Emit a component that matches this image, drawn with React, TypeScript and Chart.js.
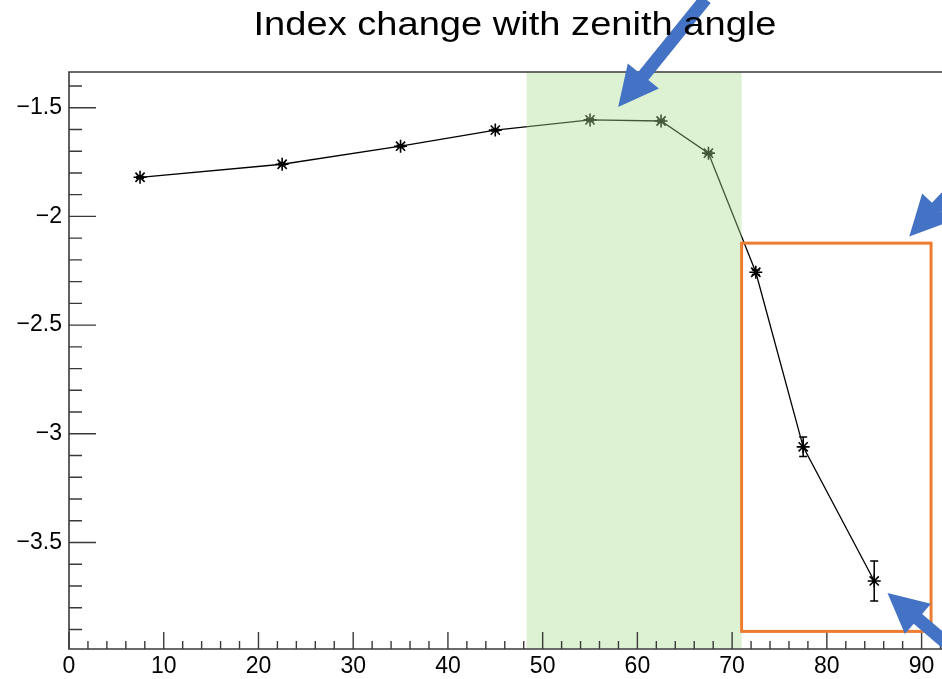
import React, { useEffect, useRef } from "react";
import { Chart, registerables } from "chart.js";

Chart.register(...registerables);

// Spectral index measured per zenith-angle bin
const zenithAngles = [7.5, 22.5, 35, 45, 55, 62.5, 67.5, 72.5, 77.5, 85];
const indexValues = [-1.82, -1.76, -1.677, -1.603, -1.556, -1.561, -1.709, -2.257, -3.06, -3.677];
const indexErrors = [0.004, 0.004, 0.004, 0.004, 0.005, 0.005, 0.006, 0.01, 0.045, 0.092];

// Axis ticks
const xTickValues = [0, 10, 20, 30, 40, 50, 60, 70, 80, 90];
const yTickValues = [-3.5, -3, -2.5, -2, -1.5];
const xRange = [0, 95.1];
const yRange = [-3.99, -1.3357];

const titleText = "Index change with zenith angle";

// Highlighted regions (data units)
const greenBand = { xMin: 48.3, xMax: 71.0 };
const orangeBox = { xMin: 71.0, xMax: 91.0, yMin: -3.909, yMax: -2.123 };

// Pointer arrows: tail -> tip (data units)
const arrowTails = [
  [67.2, -1.0],
  [97.3, -1.695],
  [97.3, -4.137],
];
const arrowTips = [
  [57.97, -1.497],
  [88.7, -2.092],
  [86.4, -3.732],
];

const AXIS_COLOR = "#3a3a3a";
const FONT = "'Liberation Sans', Arial, Helvetica, sans-serif";

const overlayPlugin = {
  id: "rootStyleOverlay",
  beforeDatasetsDraw(chart: any) {
    const { ctx } = chart;
    const xs = chart.scales.x;
    const ys = chart.scales.y;
    ctx.save();
    ctx.strokeStyle = "#000";
    ctx.lineWidth = 1.5;
    zenithAngles.forEach((a, i) => {
      const px = xs.getPixelForValue(a);
      const top = ys.getPixelForValue(indexValues[i] + indexErrors[i]);
      const bot = ys.getPixelForValue(indexValues[i] - indexErrors[i]);
      ctx.beginPath();
      ctx.moveTo(px, top);
      ctx.lineTo(px, bot);
      ctx.moveTo(px - 4, top);
      ctx.lineTo(px + 4, top);
      ctx.moveTo(px - 4, bot);
      ctx.lineTo(px + 4, bot);
      ctx.stroke();
    });
    ctx.restore();
  },
  afterDatasetsDraw(chart: any) {
    const { ctx, chartArea } = chart;
    const xs = chart.scales.x;
    const ys = chart.scales.y;
    ctx.save();

    // translucent green band over the data
    const gx0 = xs.getPixelForValue(greenBand.xMin);
    const gx1 = xs.getPixelForValue(greenBand.xMax);
    ctx.fillStyle = "rgba(169, 219, 146, 0.4)";
    ctx.fillRect(gx0, chartArea.top, gx1 - gx0, chartArea.bottom - chartArea.top - 1);

    // frame
    ctx.strokeStyle = AXIS_COLOR;
    ctx.lineWidth = 1.6;
    ctx.beginPath();
    ctx.moveTo(chartArea.right + 5, chartArea.top);
    ctx.lineTo(chartArea.left, chartArea.top);
    ctx.lineTo(chartArea.left, chartArea.bottom);
    ctx.lineTo(chartArea.right + 5, chartArea.bottom);
    ctx.stroke();

    // inward ticks
    ctx.lineWidth = 1.4;
    ctx.beginPath();
    for (let k = 0; k <= 48; k++) {
      const v = k * 2;
      if (v > xRange[1]) break;
      const px = xs.getPixelForValue(v);
      const len = v % 10 === 0 ? 17 : 8;
      ctx.moveTo(px, chartArea.bottom);
      ctx.lineTo(px, chartArea.bottom - len);
    }
    for (let k = -39; k <= -14; k++) {
      const v = k / 10;
      const py = ys.getPixelForValue(v);
      const len = k % 5 === 0 ? 27 : 13;
      ctx.moveTo(chartArea.left, py);
      ctx.lineTo(chartArea.left + len, py);
    }
    ctx.stroke();

    // orange box
    ctx.strokeStyle = "#ED7D31";
    ctx.lineWidth = 3;
    const ox0 = xs.getPixelForValue(orangeBox.xMin);
    const ox1 = xs.getPixelForValue(orangeBox.xMax);
    const oy0 = ys.getPixelForValue(orangeBox.yMax);
    const oy1 = ys.getPixelForValue(orangeBox.yMin);
    ctx.strokeRect(ox0, oy0, ox1 - ox0, oy1 - oy0);

    // blue arrows
    ctx.fillStyle = "#4472C4";
    arrowTips.forEach((tip, i) => {
      const tail = arrowTails[i];
      const tx = xs.getPixelForValue(tip[0]);
      const ty = ys.getPixelForValue(tip[1]);
      const sx = xs.getPixelForValue(tail[0]);
      const sy = ys.getPixelForValue(tail[1]);
      const dx = sx - tx;
      const dy = sy - ty;
      const len = Math.hypot(dx, dy);
      const ux = dx / len;
      const uy = dy / len;
      const nx = -uy;
      const ny = ux;
      const head = 40;
      const hw = 20;
      const sw = 6.5;
      const bx = tx + ux * head;
      const by = ty + uy * head;
      ctx.beginPath();
      ctx.moveTo(tx, ty);
      ctx.lineTo(bx + nx * hw, by + ny * hw);
      ctx.lineTo(bx + nx * sw, by + ny * sw);
      ctx.lineTo(sx + nx * sw, sy + ny * sw);
      ctx.lineTo(sx - nx * sw, sy - ny * sw);
      ctx.lineTo(bx - nx * sw, by - ny * sw);
      ctx.lineTo(bx - nx * hw, by - ny * hw);
      ctx.closePath();
      ctx.fill();
    });
    ctx.restore();
  },
  beforeDraw(chart: any) {
    const { ctx } = chart;
    ctx.save();
    ctx.fillStyle = "#fff";
    ctx.fillRect(0, 0, chart.width, chart.height);
    ctx.restore();
  },
  afterDraw(chart: any) {
    const { ctx } = chart;
    ctx.save();
    ctx.fillStyle = "#000";
    ctx.font = `34px ${FONT}`;
    ctx.textAlign = "center";
    ctx.textBaseline = "alphabetic";
    ctx.translate(515, 35);
    ctx.scale(1.12, 1);
    ctx.fillText(titleText, 0, 0);
    ctx.restore();
  },
};

export default function App() {
  const canvasRef = useRef<HTMLCanvasElement | null>(null);

  useEffect(() => {
    const canvas = canvasRef.current;
    if (!canvas) return;
    const chart = new Chart(canvas, {
      type: "line",
      data: {
        datasets: [
          {
            data: zenithAngles.map((a, i) => ({ x: a, y: indexValues[i] })),
            borderColor: "#000",
            borderWidth: 1.3,
            pointStyle: "star",
            pointRadius: 6.5,
            pointBorderWidth: 1.6,
            pointBorderColor: "#000",
            pointBackgroundColor: "#000",
            tension: 0,
            fill: false,
          },
        ],
      },
      options: {
        responsive: false,
        animation: false,
        devicePixelRatio: 1,
        layout: { padding: { top: 72, left: 0, right: 0, bottom: 0 } },
        plugins: {
          legend: { display: false },
          title: { display: false },
          tooltip: { enabled: false },
        },
        scales: {
          x: {
            type: "linear",
            min: xRange[0],
            max: xRange[1],
            grid: { display: false, drawTicks: false },
            border: { display: false },
            afterBuildTicks: (s: any) => {
              s.ticks = xTickValues.map((v) => ({ value: v }));
            },
            afterFit: (s: any) => {
              s.height = 30;
            },
            ticks: {
              autoSkip: false,
              maxRotation: 0,
              padding: 4,
              color: "#000",
              font: { family: FONT, size: 23 },
              callback: (v: any) => String(v),
            },
          },
          y: {
            type: "linear",
            min: yRange[0],
            max: yRange[1],
            grid: { display: false, drawTicks: false },
            border: { display: false },
            afterBuildTicks: (s: any) => {
              s.ticks = yTickValues.map((v) => ({ value: v }));
            },
            afterFit: (s: any) => {
              s.width = 69;
            },
            ticks: {
              autoSkip: false,
              padding: 7,
              color: "#000",
              font: { family: FONT, size: 23 },
              callback: (v: any) => String(v).replace("-", "\u2212"),
            },
          },
        },
      },
      plugins: [overlayPlugin],
    });
    return () => chart.destroy();
  }, []);

  return (
    <div
      style={{
        position: "absolute",
        left: 0,
        top: 0,
        width: 942,
        height: 679,
        overflow: "hidden",
        background: "#fff",
      }}
    >
      <canvas ref={canvasRef} width={978} height={679} style={{ display: "block" }} />
    </div>
  );
}
